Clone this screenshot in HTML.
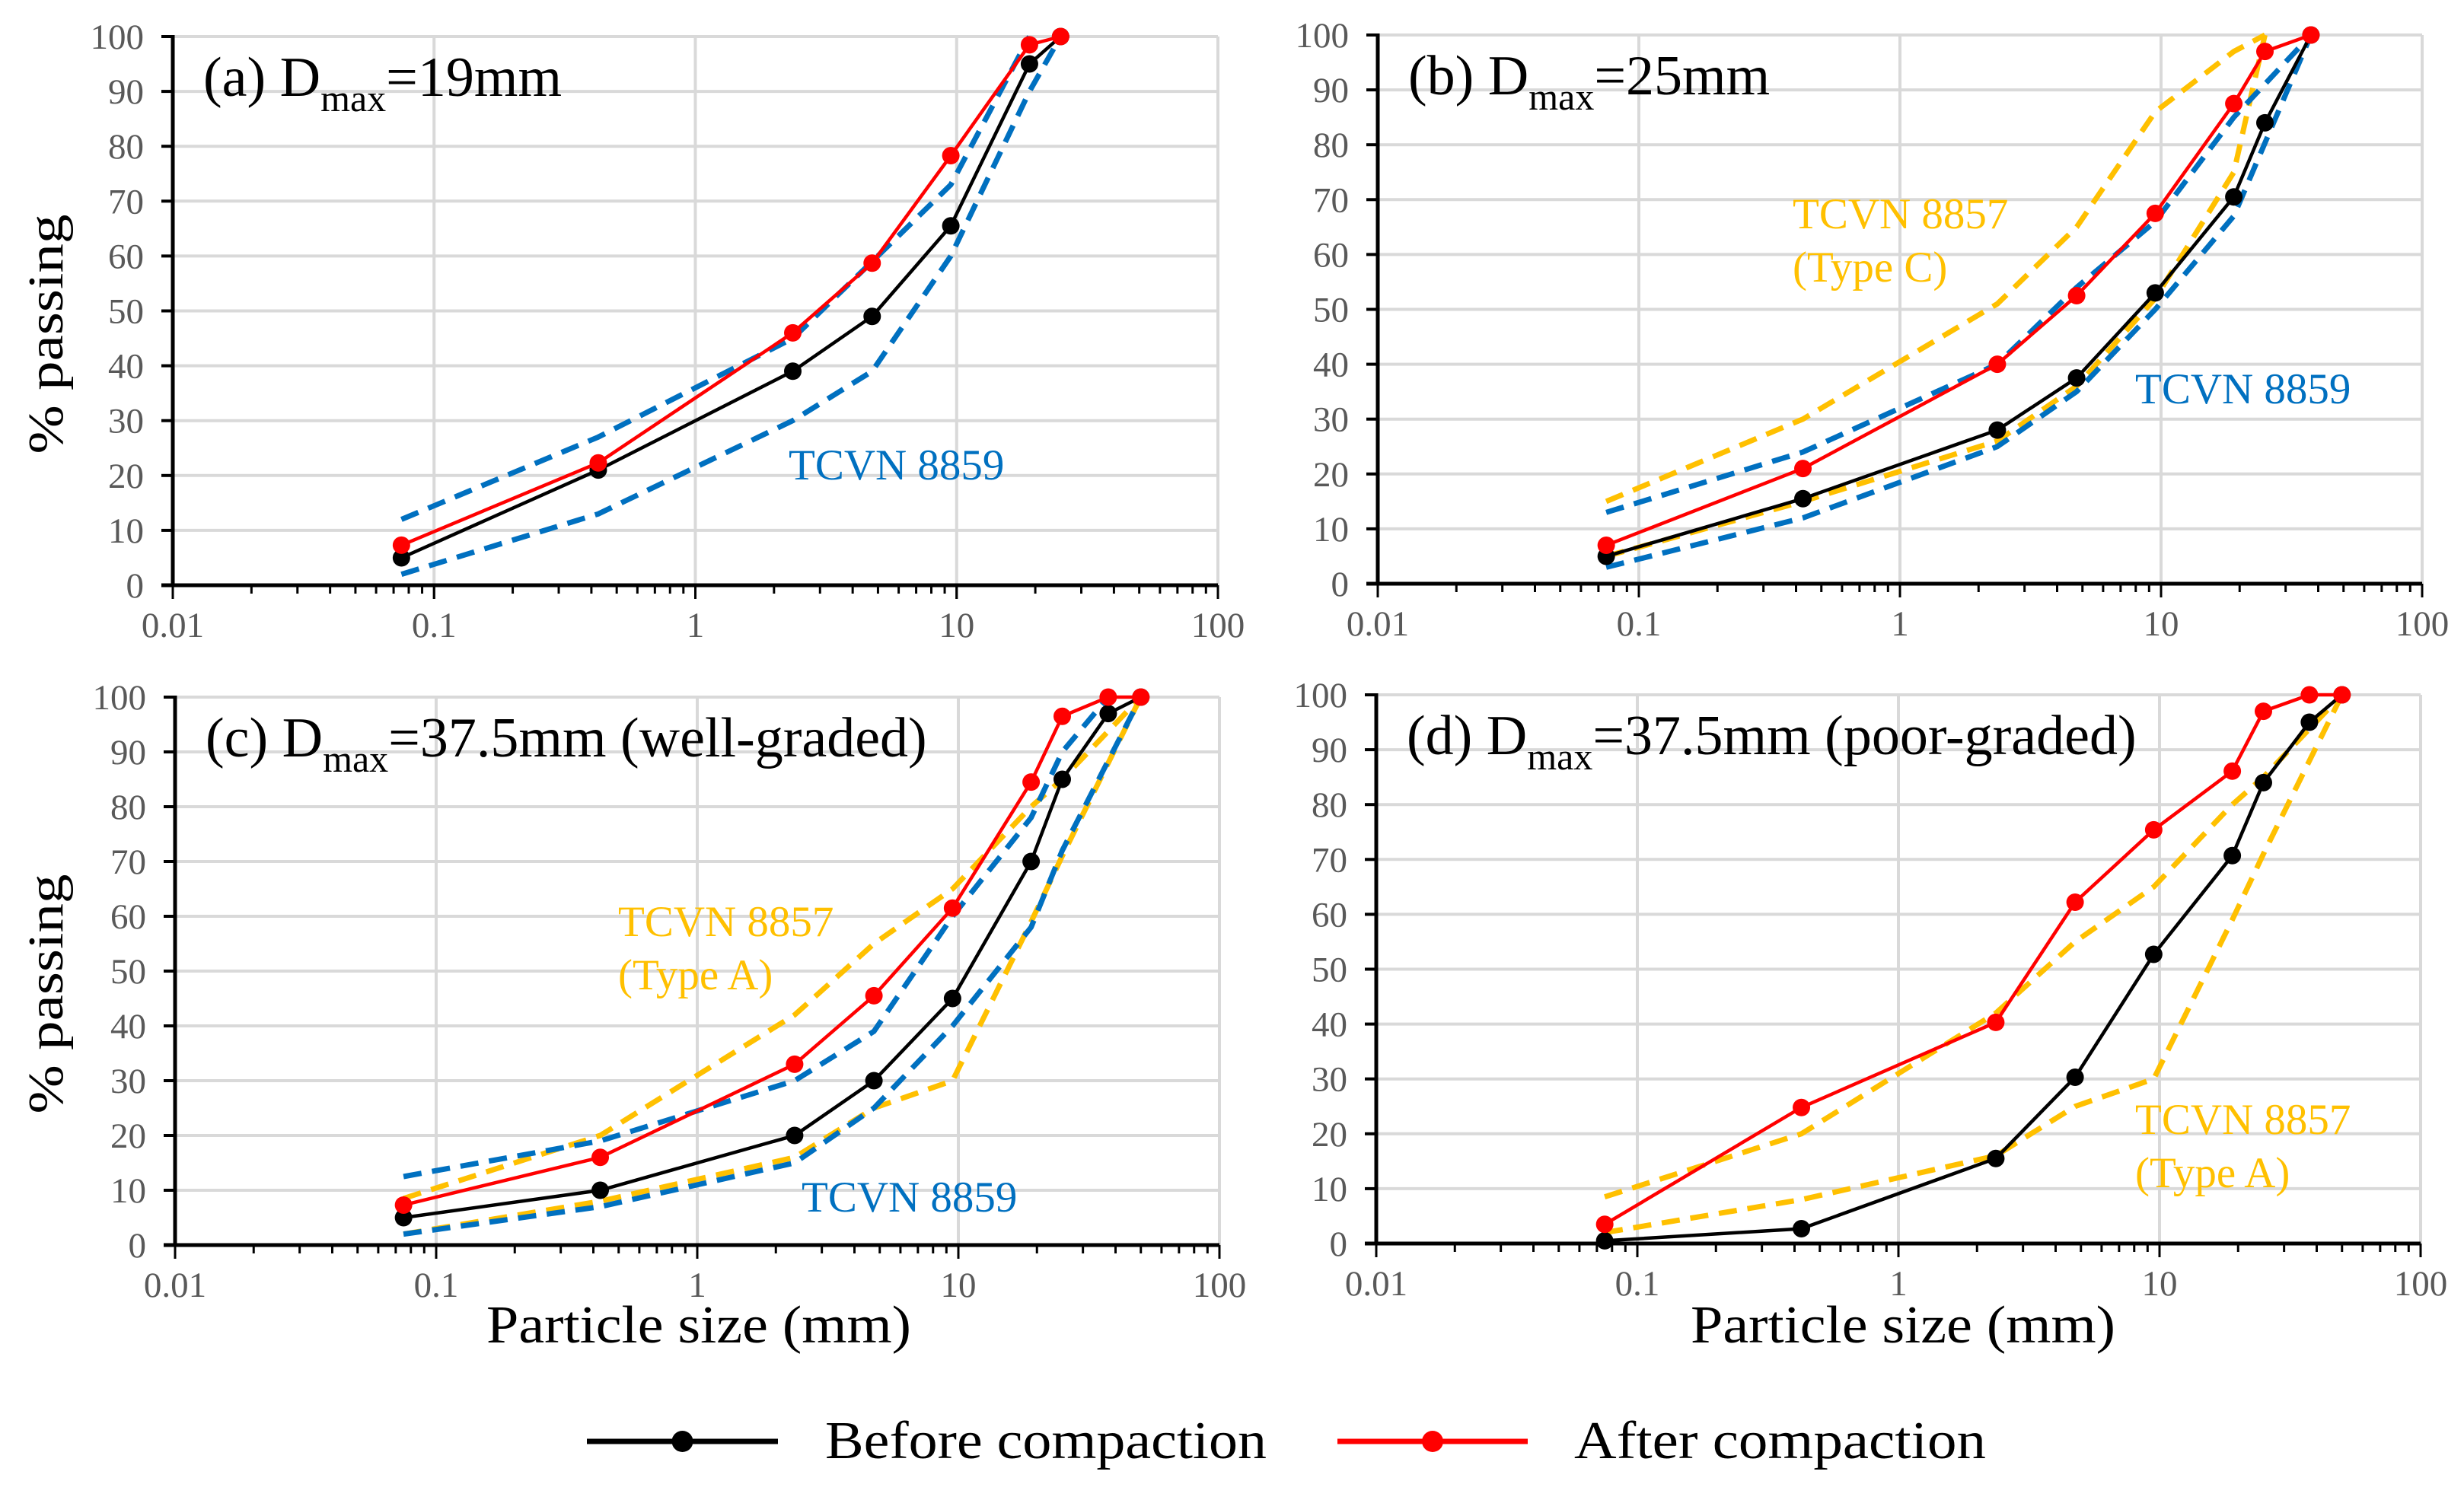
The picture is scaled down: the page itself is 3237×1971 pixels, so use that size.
<!DOCTYPE html>
<html><head><meta charset="utf-8"><style>
html,body{margin:0;padding:0;background:#fff;}
svg{display:block;font-family:"Liberation Serif",serif;}
</style></head><body>
<svg id="chart" width="3237" height="1971" viewBox="0 0 3237 1971" xmlns="http://www.w3.org/2000/svg"></svg>
<script>
// ---- data ----
const sievesA = [0.075, 0.425, 2.36, 4.75, 9.5, 19, 25];
const beforeA = [5, 21, 39, 49, 65.5, 95, 100];
const afterA  = [7.3, 22.3, 46, 58.7, 78.3, 98.5, 100];
const s8859UpA = [0.075, 0.425, 2.36, 4.75, 9.5, 19];
const v8859UpA = [12, 27, 45, 59, 73, 100];
const s8859LoA = [0.075, 0.425, 2.36, 4.75, 9.5, 19, 25];
const v8859LoA = [2, 13, 30, 39, 60, 90, 100];

const sievesB = [0.075, 0.425, 2.36, 4.75, 9.5, 19, 25, 37.5];
const beforeB = [5, 15.5, 28, 37.5, 53, 70.5, 84, 100];
const afterB  = [7, 21, 40, 52.5, 67.5, 87.5, 97, 100];
const s8859B = [0.075, 0.425, 2.36, 4.75, 9.5, 19, 37.5];
const v8859UpB = [13, 24, 40, 54, 66, 85, 100];
const v8859LoB = [3, 12, 25, 35, 50, 67, 100];
const s8857B = [0.075, 0.425, 2.36, 4.75, 9.5, 19, 25];
const v8857UpB = [15, 30, 51, 65, 86, 97, 100];
const v8857LoB = [5, 15, 26, 36, 52, 75, 100];

const sievesCD = [0.075, 0.425, 2.36, 4.75, 9.5, 19, 25, 37.5, 50];
const beforeC = [5, 10, 20, 30, 45, 70, 85, 97, 100];
const afterC  = [7.3, 16, 33, 45.5, 61.5, 84.5, 96.5, 100, 100];
const s8859UpC = [0.075, 0.425, 2.36, 4.75, 9.5, 19, 25, 37.5];
const v8859UpC = [12.5, 19, 30, 39, 60, 78, 90, 100];
const s8859LoC = [0.075, 0.425, 2.36, 4.75, 9.5, 19, 25, 50];
const v8859LoC = [2, 7, 15, 25, 40, 58, 72, 100];
const s8857A = [0.075, 0.425, 2.36, 4.75, 9.5, 19, 25, 50];
const v8857UpA = [8.5, 20, 42, 55, 65, 80, 85, 100];
const v8857LoA = [2, 8, 16, 25, 30, 59, 71, 100];
const beforeD = [0.5, 2.7, 15.5, 30.3, 52.7, 70.7, 84, 95, 100];
const afterD  = [3.5, 24.8, 40.3, 62.2, 75.4, 86.1, 97, 100, 100];

const xTickLabels = ["0.01", "0.1", "1", "10", "100"];
const yTickLabels = ["0","10","20","30","40","50","60","70","80","90","100"];

const NS = "http://www.w3.org/2000/svg";
const svg = document.getElementById("chart");
function mk(tag, attrs, parent, text) {
  const e = document.createElementNS(NS, tag);
  for (const k in attrs) e.setAttribute(k, attrs[k]);
  if (text !== undefined) e.textContent = text;
  (parent || svg).appendChild(e);
  return e;
}

const BLUE = "#0070C0", YEL = "#FFC000";

function panel(cfg) {
  const g = mk("g", {});
  
  
  const L = cfg.x0, R = cfg.x1, T = cfg.y0, B = cfg.y1;
  const xs = v => L + (Math.log10(v) + 2) / 4 * (R - L);
  const ys = v => B - v / 100 * (B - T);
  for (let i = 1; i <= 10; i++) {
    const l = mk("line", {x1: L, x2: R, y1: ys(i*10), y2: ys(i*10), stroke: "#d9d9d9", "stroke-width": 4}, g);
    
    
  }
  for (let d = 1; d <= 4; d++) {
    const v = Math.pow(10, d - 2);
    const l = mk("line", {x1: xs(v), x2: xs(v), y1: T, y2: B, stroke: "#d9d9d9", "stroke-width": 4}, g);
    
    
  }
  yTickLabels.forEach((t, i) => {
    const y = ys(+t);
    mk("line", {x1: L - 15, x2: L, y1: y, y2: y, stroke: "#000", "stroke-width": 4}, g);
    const tx = mk("text", {x: L - 38, y: y + 16, "text-anchor": "end", "font-size": 47, fill: "#595959"}, g, t);
    
    
  });
  for (let d = -2; d < 2; d++) {
    for (let m = 1; m <= 10; m++) {
      const v = m * Math.pow(10, d);
      const x = xs(v);
      mk("line", {x1: x, x2: x, y1: B, y2: B + (m === 1 || m === 10 ? 18 : 11), stroke: "#000", "stroke-width": 3}, g);
    }
  }
  xTickLabels.forEach(t => {
    const tx = mk("text", {x: xs(+t), y: B + 68, "text-anchor": "middle", "font-size": 47, fill: "#595959"}, g, t);
    
    
  });
  const ya = mk("line", {x1: L, x2: L, y1: T - 2, y2: B, stroke: "#000", "stroke-width": 5}, g);
  
  
  const xa = mk("line", {x1: L - 15, x2: R, y1: B, y2: B, stroke: "#000", "stroke-width": 5}, g);
  
  

  const path = (sx, sv) => sx.map((s, i) => (i ? "L" : "M") + xs(s).toFixed(1) + "," + ys(sv[i]).toFixed(1)).join(" ");
  cfg.dashed.forEach(d => {
    const p = mk("path", {d: path(d.s, d.v), fill: "none", stroke: d.c, "stroke-width": 7, "stroke-dasharray": "24 14"}, g);
    
    
  });
  cfg.series.forEach(sr => {
    const p = mk("path", {d: path(sr.s, sr.v), fill: "none", stroke: sr.c, "stroke-width": 4.5}, g);
    
    
    sr.s.forEach((s, i) => {
      const c = mk("circle", {cx: xs(s), cy: ys(sr.v[i]), r: 11.5, fill: sr.c}, g);
      
      
    });
  });
  const tt = mk("text", {x: L + 40, y: T + 78, "font-size": 74, fill: "#000"}, g);
  
  
  mk("tspan", {}, tt, cfg.pre + " D");
  mk("tspan", {"font-size": 50, dy: 20}, tt, "max");
  mk("tspan", {dy: -20}, tt, cfg.post);
  cfg.notes.forEach(nt => {
    const t = mk("text", {x: nt.x, y: nt.y, "font-size": 57, fill: nt.c}, g);
    
    
    nt.lines.forEach((ln, i) => mk("tspan", {x: nt.x, dy: i ? 70 : 0}, t, ln));
  });
}

panel({name: "panel-a", x0: 227, x1: 1600, y0: 48, y1: 769, pre: "(a)", post: "=19mm",
  dashed: [{s: s8859UpA, v: v8859UpA, c: BLUE, n: "tcvn8859-upper"}, {s: s8859LoA, v: v8859LoA, c: BLUE, n: "tcvn8859-lower"}],
  series: [{s: sievesA, v: beforeA, c: "#000", n: "before"}, {s: sievesA, v: afterA, c: "#FF0000", n: "after"}],
  notes: [{x: 1036, y: 630, c: BLUE, lines: ["TCVN 8859"], n: "tcvn8859-label"}]});

panel({name: "panel-b", x0: 1810, x1: 3182, y0: 46, y1: 767, pre: "(b)", post: "=25mm",
  dashed: [{s: s8857B, v: v8857UpB, c: YEL, n: "tcvn8857-upper"}, {s: s8857B, v: v8857LoB, c: YEL, n: "tcvn8857-lower"},
           {s: s8859B, v: v8859UpB, c: BLUE, n: "tcvn8859-upper"}, {s: s8859B, v: v8859LoB, c: BLUE, n: "tcvn8859-lower"}],
  series: [{s: sievesB, v: beforeB, c: "#000", n: "before"}, {s: sievesB, v: afterB, c: "#FF0000", n: "after"}],
  notes: [{x: 2355, y: 300, c: YEL, lines: ["TCVN 8857", "(Type C)"], n: "tcvn8857-label"},
          {x: 2805, y: 530, c: BLUE, lines: ["TCVN 8859"], n: "tcvn8859-label"}]});

panel({name: "panel-c", x0: 230, x1: 1602, y0: 916, y1: 1636, pre: "(c)", post: "=37.5mm (well-graded)",
  dashed: [{s: s8857A, v: v8857UpA, c: YEL, n: "tcvn8857-upper"}, {s: s8857A, v: v8857LoA, c: YEL, n: "tcvn8857-lower"},
           {s: s8859UpC, v: v8859UpC, c: BLUE, n: "tcvn8859-upper"}, {s: s8859LoC, v: v8859LoC, c: BLUE, n: "tcvn8859-lower"}],
  series: [{s: sievesCD, v: beforeC, c: "#000", n: "before"}, {s: sievesCD, v: afterC, c: "#FF0000", n: "after"}],
  notes: [{x: 812, y: 1230, c: YEL, lines: ["TCVN 8857", "(Type A)"], n: "tcvn8857-label"},
          {x: 1053, y: 1592, c: BLUE, lines: ["TCVN 8859"], n: "tcvn8859-label"}]});

panel({name: "panel-d", x0: 1808, x1: 3180, y0: 913, y1: 1634, pre: "(d)", post: "=37.5mm (poor-graded)",
  dashed: [{s: s8857A, v: v8857UpA, c: YEL, n: "tcvn8857-upper"}, {s: s8857A, v: v8857LoA, c: YEL, n: "tcvn8857-lower"}],
  series: [{s: sievesCD, v: beforeD, c: "#000", n: "before"}, {s: sievesCD, v: afterD, c: "#FF0000", n: "after"}],
  notes: [{x: 2805, y: 1490, c: YEL, lines: ["TCVN 8857", "(Type A)"], n: "tcvn8857-label"}]});

[[62, 439], [62, 1306]].forEach(p => {
  const t = mk("text", {x: 0, y: 0, transform: `translate(${p[0]+20},${p[1]}) rotate(-90)`, "text-anchor": "middle", "font-size": 66, fill: "#000", textLength: 315, lengthAdjust: "spacingAndGlyphs"}, svg, "% passing");
  
  
});
[[918, 1764], [2500, 1764]].forEach(p => {
  const t = mk("text", {x: p[0], y: p[1], "text-anchor": "middle", "font-size": 70, fill: "#000", textLength: 558, lengthAdjust: "spacingAndGlyphs"}, svg, "Particle size (mm)");
  
  
});
const lg = mk("g", {});


[[771, 1022, 1084, "#000", "Before compaction", "legend-before", 580], [1757, 2007, 2068, "#FF0000", "After compaction", "legend-after", 541]].forEach(e => {
  const gg = mk("g", {}, lg);
  
  
  mk("line", {x1: e[0], x2: e[1], y1: 1894, y2: 1894, stroke: e[3], "stroke-width": 7}, gg);
  mk("circle", {cx: (e[0] + e[1]) / 2, cy: 1894, r: 14, fill: e[3]}, gg);
  mk("text", {x: e[2], y: 1916, "font-size": 70, fill: "#000", textLength: e[6], lengthAdjust: "spacingAndGlyphs"}, gg, e[4]);
});
</script>
</body></html>
